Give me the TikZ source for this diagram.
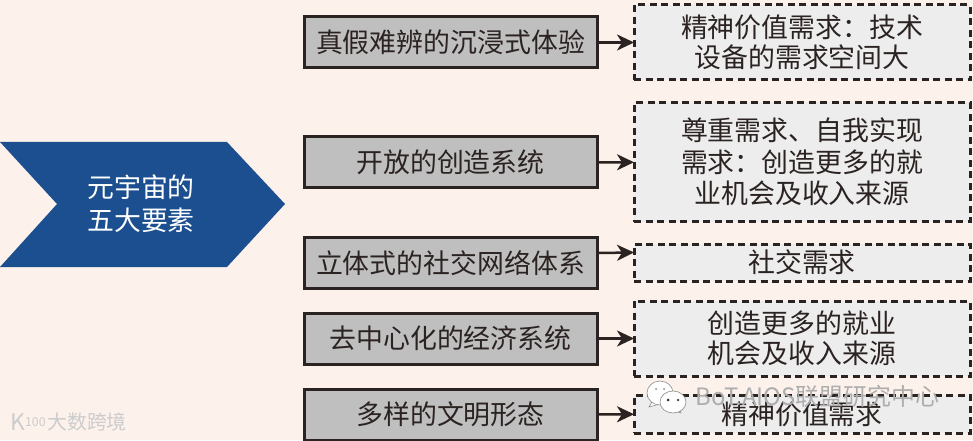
\documentclass[tikz,border=0pt]{standalone}
\usepackage{fontspec}
\setmainfont{Noto Sans CJK SC}
\usepackage{xcolor}
\usetikzlibrary{arrows.meta,positioning}
\definecolor{bgpink}{HTML}{FCF1EB}
\definecolor{chevblue}{HTML}{1B4F8F}
\definecolor{inkdark}{HTML}{2B2321}
\tikzset{
  elembox/.style={draw=inkdark,line width=.06cm,fill=black!25,minimum width=5.86cm,minimum height=1.02cm,font=\fontsize{15.3}{18}\selectfont,text=inkdark,inner sep=0pt},
  needbox/.style={draw=inkdark,line width=.06cm,dash pattern=on .14cm off .09cm,fill=black!7,minimum width=6.72cm,font=\fontsize{15.3}{17}\selectfont,text=inkdark,align=center,inner sep=0pt},
  linkarr/.style={-{Stealth[length=.34cm,width=.32cm,inset=.1cm]},line width=.05cm,inkdark,shorten >=-.03cm},
  wmark/.style={text=black!32,inner sep=0pt,anchor=west},
  bubble/.style={fill=white,draw=black!45,line width=.012cm}
}
\begin{document}
\begin{tikzpicture}
\fill[bgpink] (0,0) rectangle (19.46,8.8);
\useasboundingbox (0,0) rectangle (19.46,8.8);
% left chevron
\fill[chevblue] (0,5.96)--(4.54,5.96)--(5.7,4.72)--(4.54,3.46)--(0,3.46)--(1.14,4.72)--cycle;
\node[align=center,text=white,font=\fontsize{15.3}{18.8}\selectfont,inner sep=0pt] (core) at (2.82,4.73) {元宇宙的\\五大要素};
% five elements
\node[elembox] (elem1) at (9.01,7.95) {真假难辨的沉浸式体验};
\node[elembox] (elem2) at (9.01,5.55) {开放的创造系统};
\node[elembox] (elem3) at (9.01,3.54) {立体式的社交网络体系};
\node[elembox] (elem4) at (9.01,2.03) {去中心化的经济系统};
\node[elembox] (elem5) at (9.01,.51) {多样的文明形态};
% needs
\node[needbox,minimum height=1.5cm] (need1) at (16.04,7.95) {精神价值需求：技术\\设备的需求空间大};
\node[needbox,minimum height=2.38cm,font=\fontsize{15.3}{18}\selectfont] (need2) at (16.04,5.56) {尊重需求、自我实现\\需求：创造更多的就\\业机会及收入来源};
\node[needbox,minimum height=.74cm] (need3) at (16.04,3.55) {社交需求};
\node[needbox,minimum height=1.5cm] (need4) at (16.04,2.03) {创造更多的就业\\机会及收入来源};
\node[needbox,minimum height=.76cm] (need5) at (16.04,.52) {精神价值需求};
\draw[linkarr] (elem1)--(need1);
\draw[linkarr] (elem2)--(need2);
\draw[linkarr] ([yshift=.2cm]elem3.east)--([yshift=.2cm]need3.west);
\draw[linkarr] (elem4)--(need4);
\draw[linkarr] (elem5)--(need5);
% watermarks
\draw[bubble] (12.98,.66)--(13.06,.8)--(13.2,.72)--cycle;
\draw[bubble] (13.2,.94) ellipse (.26 and .24);
\draw[bubble] (13.62,.54)--(13.6,.66)--(13.44,.6)--cycle;
\draw[bubble] (13.46,.76) ellipse (.26 and .22);
\fill[black!35] (13.12,1.02) circle (.025) (13.28,1.02) circle (.025);
\fill[black!80] (13.36,.8) circle (.03) (13.56,.8) circle (.025);
\node[wmark,font=\fontsize{13.6}{15}\selectfont] (wechat) at (13.9,.88) {BoT.AIOS联盟研究中心};
\node[wmark,text=black!20,font=\fontsize{11.3}{13}\selectfont] (kuajing) at (.94,.36) {大数跨境};
\node[wmark,text=black!20,font=\fontsize{13}{15}\selectfont] (kmark) at (.2,.36) {K\raisebox{.35ex}{\fontsize{7}{8}\selectfont 100}};
\end{tikzpicture}
\end{document}
